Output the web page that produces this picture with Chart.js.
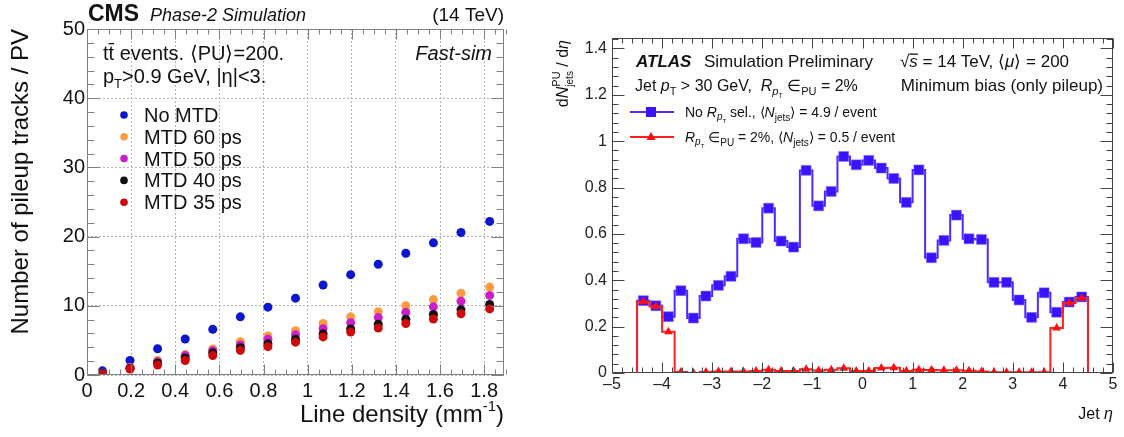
<!DOCTYPE html>
<html>
<head>
<meta charset="utf-8">
<script src="https://cdn.jsdelivr.net/npm/chart.js@4/dist/chart.umd.min.js"></script>
<style>
  body { margin: 0; background: #fff; width: 1124px; height: 437px; overflow: hidden; position: relative; }
  canvas { position: absolute; top: 0; }
  #cms { left: 0; }
  #atlas { left: 540px; }
</style>
</head>
<body>
<canvas id="cms" width="545" height="437"></canvas>
<canvas id="atlas" width="584" height="437"></canvas>
<script>
// ---- left panel: CMS pileup tracks vs line density
const lineDensity = [0.07, 0.195, 0.32, 0.445, 0.57, 0.695, 0.82, 0.945, 1.07, 1.195, 1.32, 1.445, 1.57, 1.695, 1.825];
const noMTD = [0.6, 2.1, 3.8, 5.2, 6.6, 8.4, 9.8, 11.1, 13.0, 14.5, 16.0, 17.6, 19.1, 20.6, 22.2];
const mtd60 = [0.25, 1.1, 2.1, 2.95, 3.75, 4.8, 5.65, 6.4, 7.45, 8.4, 9.15, 10.0, 10.9, 11.8, 12.7];
const mtd50 = [0.2, 1.0, 1.9, 2.8, 3.5, 4.35, 5.15, 5.8, 6.7, 7.55, 8.3, 9.05, 9.85, 10.65, 11.5];
const mtd40 = [0.2, 0.95, 1.75, 2.45, 3.2, 3.95, 4.5, 5.15, 5.95, 6.65, 7.35, 8.05, 8.75, 9.45, 10.2];
const mtd35 = [0.15, 0.85, 1.45, 2.1, 2.8, 3.55, 4.1, 4.75, 5.5, 6.2, 6.8, 7.45, 8.1, 8.85, 9.55];
const cmsNames = ['No MTD', 'MTD 60 ps', 'MTD 50 ps', 'MTD 40 ps', 'MTD 35 ps'];
const cmsColors = ['#0b16cf', '#f99b3e', '#cc1fcc', '#111111', '#cc0c0c'];

// ---- right panel: ATLAS pileup jets vs eta
const etaEdges = [-4.5, -4.25, -4.0, -3.75, -3.5, -3.25, -3.0, -2.75, -2.5, -2.25, -2.0, -1.75, -1.5, -1.25, -1.0, -0.75, -0.5, -0.25, 0,
                  0.25, 0.5, 0.75, 1.0, 1.25, 1.5, 1.75, 2.0, 2.25, 2.5, 2.75, 3.0, 3.25, 3.5, 3.75, 4.0, 4.25, 4.5];
const noRptSel = [0.312, 0.290, 0.243, 0.355, 0.237, 0.332, 0.378, 0.417, 0.579, 0.563, 0.711, 0.569, 0.543, 0.874, 0.721, 0.783, 0.934, 0.898,
                  0.917, 0.884, 0.839, 0.736, 0.876, 0.497, 0.572, 0.681, 0.579, 0.576, 0.391, 0.391, 0.315, 0.240, 0.346, 0.262, 0.306, 0.328];
const rptSel = [0.307, 0.287, 0.178, 0.004, 0.0, 0.004, 0.007, 0.006, 0.006, 0.009, 0.014, 0.009, 0.009, 0.016, 0.011, 0.014, 0.020, 0.009,
                0.009, 0.022, 0.023, 0.009, 0.014, 0.013, 0.012, 0.012, 0.010, 0.007, 0.003, 0.003, 0.003, 0.003, 0.003, 0.194, 0.302, 0.322];

const FONT = '"Liberation Sans", Arial, Helvetica, sans-serif';
const f = (size, style) => (style ? style + ' ' : '') + size + 'px ' + FONT;

function richWidth(ctx, parts) {
    let w = 0;
    for (const p of parts) { ctx.font = p.f; if (p.adv !== false) w += ctx.measureText(p.t).width; }
    return w;
}
function rich(ctx, x, y, parts, align) {
    let cx = align === 'right' ? x - richWidth(ctx, parts) : x;
    ctx.textAlign = 'left';
    ctx.textBaseline = 'alphabetic';
    for (const p of parts) {
        ctx.font = p.f;
        const w = ctx.measureText(p.t).width;
        ctx.fillText(p.t, cx, y + (p.dy || 0));
        if (p.bar) ctx.fillRect(cx, y - p.bar, w, 1.3);
        if (p.adv !== false) cx += w;
    }
}

// ROOT style frame with inward ticks on all four sides
function rootFrame(o) {
    return {
        id: 'rootFrame',
        afterDraw(chart) {
            const {ctx, chartArea: a, scales: {x, y}} = chart;
            ctx.save();
            ctx.strokeStyle = o.color;
            ctx.lineWidth = 1;
            const L = Math.round(a.left) + 0.5, R = Math.round(a.right) - 0.5;
            const T = Math.round(a.top) + 0.5, B = Math.round(a.bottom) - 0.5;
            ctx.strokeRect(L, T, R - L, B - T);
            ctx.beginPath();
            const nx = Math.round((x.max - x.min) / o.xMinor);
            for (let i = 0; i <= nx; i++) {
                const v = x.min + i * o.xMinor;
                const major = Math.abs(v / o.xMajor - Math.round(v / o.xMajor)) < 1e-6;
                const len = major ? o.xLen[0] : o.xLen[1];
                const px = Math.round(x.getPixelForValue(v)) + 0.5;
                ctx.moveTo(px, B); ctx.lineTo(px, B - len);
                ctx.moveTo(px, T); ctx.lineTo(px, T + len);
            }
            const ny = Math.round((y.max - y.min) / o.yMinor);
            for (let i = 0; i <= ny; i++) {
                const v = y.min + i * o.yMinor;
                const major = Math.abs(v / o.yMajor - Math.round(v / o.yMajor)) < 1e-6;
                const len = major ? o.yLen[0] : o.yLen[1];
                const py = Math.round(y.getPixelForValue(v)) + 0.5;
                ctx.moveTo(L, py); ctx.lineTo(L + len, py);
                ctx.moveTo(R, py); ctx.lineTo(R - len, py);
            }
            ctx.stroke();
            ctx.restore();
        }
    };
}

const cmsText = {
    id: 'cmsText',
    afterDraw(chart) {
        const ctx = chart.ctx, a = chart.chartArea;
        ctx.save();
        ctx.fillStyle = '#111';
        rich(ctx, 88, 21, [{t: 'CMS', f: f(23, 'bold')}]);
        rich(ctx, 150, 21, [{t: 'Phase-2 Simulation', f: f(18, 'italic')}]);
        rich(ctx, a.right, 21, [{t: '(14 TeV)', f: f(19)}], 'right');

        rich(ctx, 103, 60, [{t: 't', f: f(20)}, {t: 't', f: f(20), bar: 17}, {t: ' events. \u27E8PU\u27E9=200.', f: f(20)}]);
        rich(ctx, 103, 83, [{t: 'p', f: f(20)}, {t: 'T', f: f(13), dy: 5}, {t: '>0.9 GeV, |\u03B7|<3.', f: f(20)}]);
        rich(ctx, 492, 60, [{t: 'Fast-sim', f: f(20, 'italic')}], 'right');

        cmsNames.forEach((name, i) => {
            const yy = 115 + 21.8 * i;
            ctx.fillStyle = cmsColors[i];
            ctx.beginPath(); ctx.arc(124, yy, 3.8, 0, Math.PI * 2); ctx.fill();
            ctx.fillStyle = '#111';
            rich(ctx, 144, yy + 7, [{t: name, f: f(20)}]);
        });

        rich(ctx, a.right, 422, [{t: 'Line density (mm', f: f(24)}, {t: '-1', f: f(15), dy: -11}, {t: ')', f: f(24)}], 'right');
        ctx.translate(28, a.top);
        ctx.rotate(-Math.PI / 2);
        rich(ctx, 0, 0, [{t: 'Number of pileup tracks / PV', f: f(24)}], 'right');
        ctx.restore();
    }
};

const atlasText = {
    id: 'atlasText',
    afterDraw(chart) {
        const ctx = chart.ctx, a = chart.chartArea;
        ctx.save();
        ctx.fillStyle = '#111';
        rich(ctx, 96, 67, [{t: 'ATLAS', f: f(17, 'italic bold')}]);
        rich(ctx, 164, 67, [{t: 'Simulation Preliminary', f: f(17)}]);
        rich(ctx, 360, 67, [{t: '\u221A', f: f(17)}, {t: 's', f: f(17, 'italic'), bar: 13.5},
            {t: ' = 14 TeV, \u27E8', f: f(17)}, {t: '\u03BC', f: f(17, 'italic')}, {t: '\u27E9 = 200', f: f(17)}]);
        rich(ctx, 95, 91, [{t: 'Jet ', f: f(16)}, {t: 'p', f: f(16, 'italic')}, {t: 'T', f: f(11), dy: 4},
            {t: ' > 30 GeV,  ', f: f(16)}, {t: 'R', f: f(16, 'italic')}, {t: 'p', f: f(11, 'italic'), dy: 4}, {t: 'T', f: f(7), dy: 7},
            {t: ' \u2208', f: f(16)}, {t: 'PU', f: f(11), dy: 4}, {t: ' = 2%', f: f(16)}]);
        rich(ctx, a.right - 10, 91, [{t: 'Minimum bias (only pileup)', f: f(17)}], 'right');

        // legend
        ctx.lineWidth = 2;
        ctx.strokeStyle = '#4d2bff';
        ctx.beginPath(); ctx.moveTo(90, 112); ctx.lineTo(134, 112); ctx.stroke();
        ctx.fillStyle = '#3a14ff';
        ctx.fillRect(106, 107, 10, 10);
        ctx.strokeStyle = '#ff2020';
        ctx.beginPath(); ctx.moveTo(90, 137); ctx.lineTo(134, 137); ctx.stroke();
        ctx.fillStyle = '#ff1010';
        ctx.beginPath(); ctx.moveTo(111, 132); ctx.lineTo(115.5, 140); ctx.lineTo(106.5, 140); ctx.closePath(); ctx.fill();
        ctx.fillStyle = '#111';
        rich(ctx, 145, 117, [{t: 'No ', f: f(14)}, {t: 'R', f: f(14, 'italic')}, {t: 'p', f: f(10, 'italic'), dy: 3}, {t: 'T', f: f(6), dy: 6},
            {t: ' sel., \u27E8', f: f(14)}, {t: 'N', f: f(14, 'italic')}, {t: 'jets', f: f(10), dy: 4}, {t: '\u27E9 = 4.9 / event', f: f(14)}]);
        rich(ctx, 145, 142, [{t: 'R', f: f(14, 'italic')}, {t: 'p', f: f(10, 'italic'), dy: 3}, {t: 'T', f: f(6), dy: 6},
            {t: ' \u2208', f: f(14)}, {t: 'PU', f: f(10), dy: 4}, {t: ' = 2%, \u27E8', f: f(14)}, {t: 'N', f: f(14, 'italic')},
            {t: 'jets', f: f(10), dy: 4}, {t: '\u27E9 = 0.5 / event', f: f(14)}]);

        rich(ctx, a.right, 419, [{t: 'Jet ', f: f(16)}, {t: '\u03B7', f: f(16, 'italic')}], 'right');
        ctx.translate(28, a.top + 2);
        ctx.rotate(-Math.PI / 2);
        rich(ctx, 0, 0, [{t: 'd', f: f(16)}, {t: 'N', f: f(16, 'italic')}, {t: 'PU', f: f(11), dy: -8, adv: false},
            {t: 'jets', f: f(10), dy: 5}, {t: ' / d', f: f(16)}, {t: '\u03B7', f: f(16, 'italic')}], 'right');
        ctx.restore();
    }
};

function drawCms() {
    const series = [noMTD, mtd60, mtd50, mtd40, mtd35];
    const datasets = series.map((vals, i) => ({
        label: cmsNames[i],
        data: vals.map((v, j) => ({x: lineDensity[j], y: v})),
        backgroundColor: cmsColors[i],
        borderWidth: 0,
        pointRadius: 4.5,
        order: 5 - i
    }));
    new Chart(document.getElementById('cms'), {
        type: 'scatter',
        data: {datasets: datasets},
        options: {
            responsive: false, animation: false, devicePixelRatio: 1,
            layout: {padding: {top: 29, right: 41, left: 0, bottom: 0}},
            plugins: {legend: {display: false}, tooltip: {enabled: false}},
            scales: {
                x: {
                    min: 0, max: 1.89,
                    afterFit: s => { s.height = 62; },
                    ticks: {stepSize: 0.2, includeBounds: false, padding: 4, color: '#111', font: {family: FONT, size: 20},
                            maxRotation: 0, autoSkip: false, callback: v => String(+v.toFixed(1))},
                    grid: {color: '#b5b5b5', drawTicks: false},
                    border: {display: false, dash: [2, 2]}
                },
                y: {
                    min: 0, max: 50,
                    afterFit: s => { s.width = 87; },
                    ticks: {stepSize: 10, padding: 2, color: '#111', font: {family: FONT, size: 20}},
                    grid: {color: '#b5b5b5', drawTicks: false},
                    border: {display: false, dash: [2, 2]}
                }
            }
        },
        plugins: [rootFrame({color: '#808080', xMajor: 0.2, xMinor: 0.05, yMajor: 10, yMinor: 2, xLen: [10, 5], yLen: [12, 7]}), cmsText]
    });
}

function stepData(edges, vals) {
    const pts = [{x: -5, y: 0}];
    vals.forEach((v, i) => pts.push({x: edges[i], y: v}));
    pts.push({x: edges[edges.length - 1], y: 0}, {x: 5, y: 0});
    return pts;
}

function drawAtlas() {
    const centers = noRptSel.map((v, i) => (etaEdges[i] + etaEdges[i + 1]) / 2);
    new Chart(document.getElementById('atlas'), {
        type: 'line',
        data: {
            datasets: [
                {type: 'line', data: stepData(etaEdges, noRptSel), stepped: 'before', borderColor: '#4d2bff', borderWidth: 2, pointRadius: 0, order: 4},
                {type: 'scatter', data: noRptSel.map((v, i) => ({x: centers[i], y: v})), pointStyle: 'rect', pointRadius: 7,
                 backgroundColor: '#3a14ff', borderColor: 'rgba(120,100,255,0.5)', borderWidth: 1, order: 3},
                {type: 'line', data: stepData(etaEdges, rptSel), stepped: 'before', borderColor: '#ff2020', borderWidth: 2, pointRadius: 0, order: 2},
                {type: 'scatter', data: rptSel.map((v, i) => ({x: centers[i], y: v})), pointStyle: 'triangle', pointRadius: 5,
                 backgroundColor: '#ff1010', borderWidth: 0, order: 1}
            ]
        },
        options: {
            responsive: false, animation: false, devicePixelRatio: 1,
            layout: {padding: {top: 38, right: 11, left: 0, bottom: 0}},
            plugins: {legend: {display: false}, tooltip: {enabled: false}},
            scales: {
                x: {
                    type: 'linear', min: -5, max: 5,
                    afterFit: s => { s.height = 64; },
                    ticks: {stepSize: 1, padding: 2, color: '#222', font: {family: FONT, size: 16}, maxRotation: 0, autoSkip: false,
                            callback: v => v < 0 ? '\u2013' + Math.abs(v) : String(v)},
                    grid: {display: false, drawTicks: false},
                    border: {display: false}
                },
                y: {
                    min: 0, max: 1.445,
                    afterFit: s => { s.width = 72; },
                    ticks: {stepSize: 0.2, includeBounds: false, padding: 5, color: '#222', font: {family: FONT, size: 16},
                            callback: v => String(+v.toFixed(1))},
                    grid: {display: false, drawTicks: false},
                    border: {display: false}
                }
            }
        },
        plugins: [rootFrame({color: '#444', xMajor: 1, xMinor: 0.2, yMajor: 0.2, yMinor: 0.04, xLen: [10, 5], yLen: [12, 6]}), atlasText]
    });
}

document.addEventListener('DOMContentLoaded', () => { drawCms(); drawAtlas(); });
</script>
</body>
</html>
